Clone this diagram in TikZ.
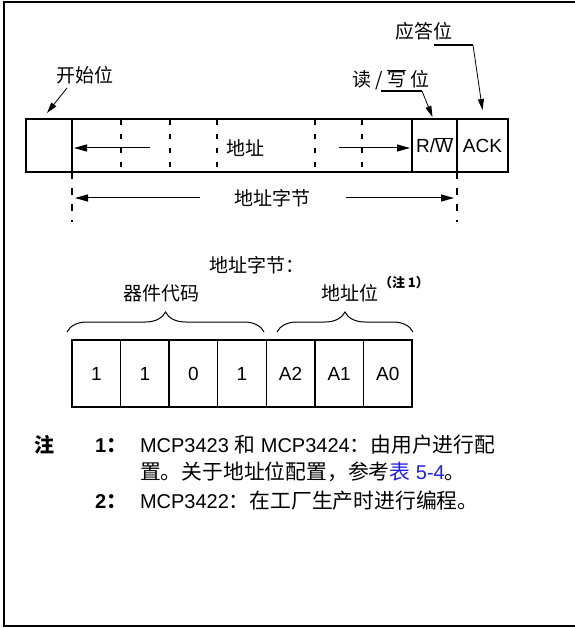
\documentclass[tikz,border=0pt]{standalone}
\usepackage{fontspec}
\setmainfont{Liberation Sans}
\newfontfamily\cjk{Noto Sans CJK SC}
\usetikzlibrary{arrows.meta,decorations.pathreplacing}
\definecolor{linkblue}{RGB}{30,30,235}
\newcommand\zhtxt[1]{{\cjk\fontsize{20.8}{24}\selectfont #1}}
\begin{document}
\begin{tikzpicture}[x=1pt,y=-1pt,
  every node/.style={inner sep=0pt,outer sep=0pt},
  cell/.style={draw,line width=1.3pt,minimum height=53pt,anchor=north west,font=\fontsize{19}{19}\selectfont},
  bitcell/.style={draw,line width=1.3pt,minimum width=48.6pt,minimum height=67pt,anchor=north west,font=\fontsize{19}{19}\selectfont},
  lbl/.style={font=\cjk\fontsize{19}{19}\selectfont},
  divider/.style={line width=1.3pt,dash pattern=on 5pt off 9pt},
  guide/.style={line width=1.3pt,dash pattern=on 7pt off 9pt},
  arr/.style={line width=1pt,-{Triangle[length=13pt,width=7pt]}},
  leader/.style={line width=2.6pt},
  thinarr/.style={line width=0.8pt,-{Triangle[length=11pt,width=6pt]}},
  brc/.style={line width=1pt,decorate,decoration={brace,amplitude=20pt}},
]
\useasboundingbox (0,0) rectangle (574,628);
% outer frame (right side cut off)
\draw[line width=1.6pt] (600,2) -- (4,2) -- (4,626) -- (600,626);

% top bar
\node[cell,minimum width=46pt] (start) at (26,119) {};
\node[cell,minimum width=340pt] (addr) at (72,119) {};
\node[cell,minimum width=45pt] (rw) at (412,119) {R/$\overline{\mbox{W}}$};
\node[cell,minimum width=51pt] (ack) at (457,119) {ACK};
\foreach \x in {121,170,217,315,362} \draw[divider] (\x,120) -- (\x,172);

\node[lbl] (addrtxt) at (245,148) {地址};
\coordinate (la) at (150,148);
\coordinate (ra) at (339,148);
\draw[arr,shorten >=2pt] (la) -- (la -| addr.west);
\draw[arr,shorten >=2pt] (ra) -- (ra -| rw.west);

% labels above
\node[lbl] (startlbl) at (85,75) {开始位};
\coordinate (sa) at (67,88);
\draw[thinarr] (sa) -- ([shift={(-2,-6)}]start.north);

\node[lbl] (rwlbl) at (391,80) {读 / $\overline{\mbox{写}}$ 位};
\coordinate (rwl1) at (381,91);
\coordinate (rwl2) at (422,91);
\draw[leader] (rwl1) -- (rwl2);
\draw[thinarr] (rwl2) -- ([shift={(-2,-2)}]rw.north);

\node[lbl] (acklbl) at (424,31) {应答位};
\coordinate (akl1) at (434,45);
\coordinate (akl2) at (473,45);
\draw[leader] (akl1) -- (akl2);
\draw[thinarr] (akl2) -- ([shift={(0,-9)}]ack.north);

% address byte span
\coordinate (gl) at (72,222);
\coordinate (gr) at (457,222);
\draw[guide] (addr.south west) -- (gl);
\draw[guide] (ack.south west) -- (gr);
\node[lbl] (bytelbl) at (272,198) {地址字节};
\coordinate (bl) at (200,198);
\coordinate (br) at (346,198);
\draw[arr,shorten >=3pt] (bl) -- (bl -| gl);
\draw[arr,shorten >=3pt] (br) -- (br -| gr);

% address byte detail
\node[lbl] (bytehd) at (257,265) {地址字节：};
\node[lbl] (devcode) at (161,293) {器件代码};
\node[lbl] (addrbits) at (350,293) {地址位};
\node[font=\cjk\bfseries\fontsize{13}{13}\selectfont,anchor=west] (note1) at (379,283) {（注 1）};
\draw[brc] (67,332) -- (264,332);
\draw[brc] (277,332) -- (413,332);

\foreach \i/\t in {0/1,1/1,2/0,3/1,4/A2,5/A1,6/A0}
  \node[bitcell] (b\i) at ({72+48.57*\i},340) {\t};

% notes
\node[anchor=base west,font=\cjk\bfseries\fontsize{20}{20}\selectfont] (zhu) at (34,452) {注};
\node[anchor=base west,font=\bfseries\fontsize{20}{20}\selectfont] (n1) at (95,452) {1\zhtxt{：}};
\node[anchor=base west,font=\bfseries\fontsize{20}{20}\selectfont] (n2) at (95,508) {2\zhtxt{：}};
\node[anchor=base west,font=\fontsize{20}{20}\selectfont] (l1) at (140,452) {MCP3423 \zhtxt{和} MCP3424\zhtxt{：由用户进行配}};
\node[anchor=base west,font=\fontsize{20}{20}\selectfont] (l2) at (140,479) {\zhtxt{置。关于地址位配置，参考}\textcolor{linkblue}{\zhtxt{表} 5-4}\zhtxt{。}};
\node[anchor=base west,font=\fontsize{20}{20}\selectfont] (l3) at (140,508) {MCP3422\zhtxt{：在工厂生产时进行编程。}};
\end{tikzpicture}
\end{document}
